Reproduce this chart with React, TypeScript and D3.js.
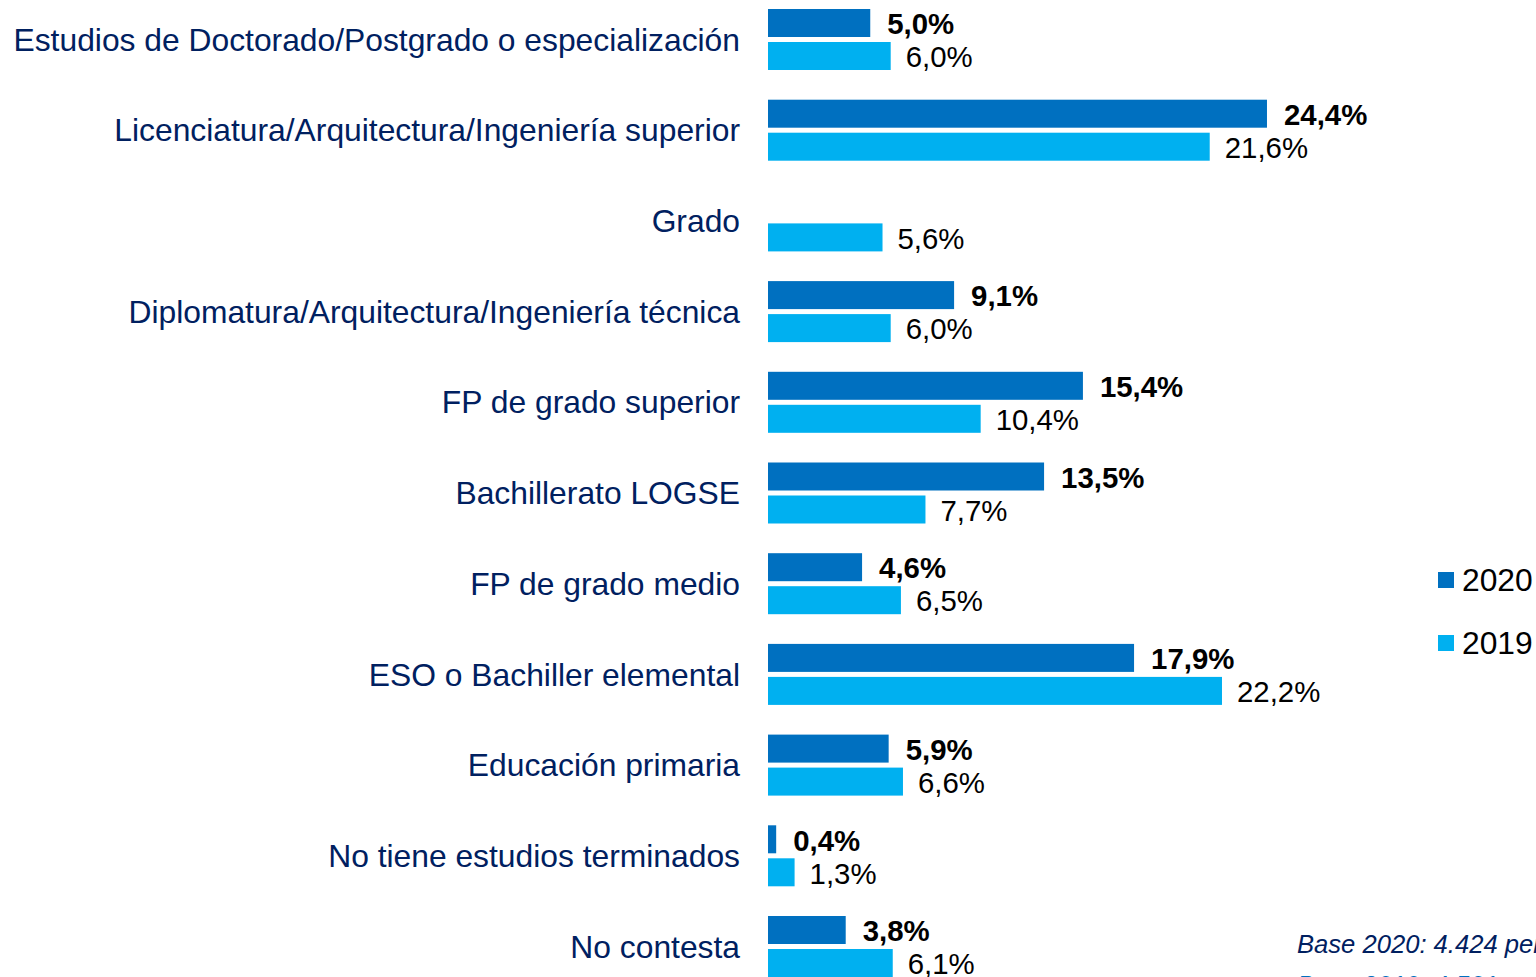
import React from "react";
import * as d3 from "d3";

const categories = [
  "Estudios de Doctorado/Postgrado o especialización",
  "Licenciatura/Arquitectura/Ingeniería superior",
  "Grado",
  "Diplomatura/Arquitectura/Ingeniería técnica",
  "FP de grado superior",
  "Bachillerato LOGSE",
  "FP de grado medio",
  "ESO o Bachiller elemental",
  "Educación primaria",
  "No tiene estudios terminados",
  "No contesta",
];
const values2020: (number | null)[] = [5.0, 24.4, null, 9.1, 15.4, 13.5, 4.6, 17.9, 5.9, 0.4, 3.8];
const values2019: (number | null)[] = [6.0, 21.6, 5.6, 6.0, 10.4, 7.7, 6.5, 22.2, 6.6, 1.3, 6.1];
const seriesNames = ["2020", "2019"];
const baseNotes = ["Base 2020: 4.424 personas", "Base 2019: 4.501 personas"];

const W = 1536;
const H = 977;
const COLORS: Record<string, string> = { "2020": "#0070C0", "2019": "#00B0F0" };
const FONT = "'Liberation Sans', Arial, sans-serif";

const fmt = (v: number) => v.toFixed(1).replace(".", ",") + "%";

export default function App() {
  const x = d3.scaleLinear().domain([0, 25]).range([768, 768 + 25 * 20.45]);
  const y = d3.scaleBand<string>().domain(categories).range([9, 9 + 11 * 90.7]).padding(0);
  const yi = d3.scaleBand<string>().domain(seriesNames).range([0, 61]).paddingInner(5 / 33).paddingOuter(0);
  const series = [
    { name: "2020", vals: values2020, bold: true, off: 17 },
    { name: "2019", vals: values2019, bold: false, off: 15 },
  ];

  return (
    <svg
      width={W}
      height={H}
      style={{ position: "absolute", left: 0, top: 0, background: "#fff" }}
      fontFamily={FONT}
    >
      <rect width={W} height={H} fill="#fff" />
      {categories.map((c, i) => {
        const y0 = y(c)!;
        return (
          <g key={c}>
            <text
              x={740}
              y={y0 + 30.5}
              dy="0.35em"
              textAnchor="end"
              fontSize={31.8}
              fill="#002060"
            >
              {c}
            </text>
            {series.map((s) => {
              const v = s.vals[i];
              if (v == null) return null;
              const by = y0 + yi(s.name)!;
              const bh = yi.bandwidth();
              return (
                <g key={s.name}>
                  <rect x={x(0)} y={by} width={x(v) - x(0)} height={bh} fill={COLORS[s.name]} />
                  <text
                    x={x(v) + s.off}
                    y={by + bh / 2 + 1}
                    dy="0.35em"
                    fontSize={29.4}
                    fontWeight={s.bold ? "bold" : "normal"}
                    fill="#000"
                  >
                    {fmt(v)}
                  </text>
                </g>
              );
            })}
          </g>
        );
      })}
      {seriesNames.map((n, k) => (
        <g key={n} transform={`translate(0, ${k * 63})`}>
          <rect x={1438} y={572} width={16} height={16} fill={COLORS[n]} />
          <text x={1462} y={580} dy="0.35em" fontSize={31.8} fill="#000">
            {n}
          </text>
        </g>
      ))}
      <text x={1297} y={953} fontSize={25.6} fontStyle="italic" fill="#002060">
        {baseNotes[0]}
      </text>
      <text x={1297} y={994} fontSize={25.6} fontStyle="italic" fill="#0070C0">
        {baseNotes[1]}
      </text>
    </svg>
  );
}
